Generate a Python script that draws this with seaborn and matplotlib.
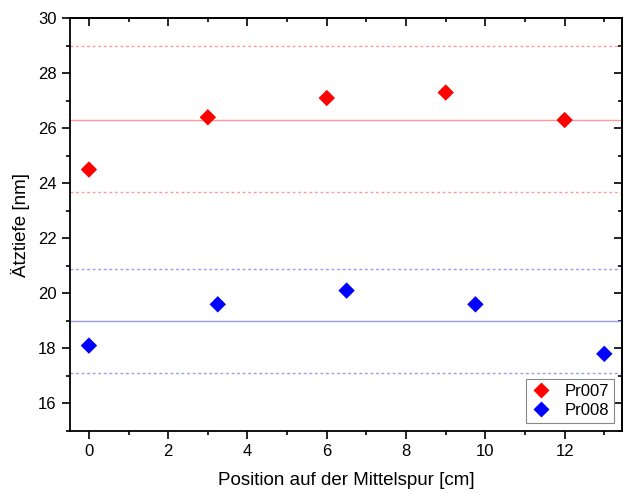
import numpy as np
import pandas as pd
import seaborn as sns
import matplotlib
matplotlib.use("Agg")
import matplotlib.pyplot as plt
from matplotlib.ticker import MultipleLocator

sns.set_style("ticks")
plt.rcParams['font.family'] = ['Liberation Sans', 'DejaVu Sans']
plt.rcParams['text.color'] = 'black'
plt.rcParams['axes.labelcolor'] = 'black'
plt.rcParams['xtick.color'] = 'black'
plt.rcParams['ytick.color'] = 'black'

x_pr007 = [0, 3, 6, 9, 12]
y_pr007 = [24.5, 26.4, 27.1, 27.3, 26.3]
x_pr008 = [0, 3.25, 6.5, 9.75, 13]
y_pr008 = [18.1, 19.6, 20.1, 19.6, 17.8]
mean_pr007, band_pr007 = 26.3, [29.0, 23.7]
mean_pr008, band_pr008 = 19.0, [20.9, 17.1]

df = pd.DataFrame({
    "x": x_pr007 + x_pr008,
    "y": y_pr007 + y_pr008,
    "series": ["Pr007"] * len(x_pr007) + ["Pr008"] * len(x_pr008),
})

fig = plt.figure(figsize=(6.24, 4.93), dpi=100)
ax = fig.add_axes([0.112, 0.126, 0.885, 0.837])

ax.axhline(mean_pr007, color="#ff9999", lw=1.0, zorder=1)
for v in band_pr007:
    ax.axhline(v, color="#ff9999", lw=1.0, ls=(0, (2, 2)), zorder=1)
ax.axhline(mean_pr008, color="#9999ee", lw=1.0, zorder=1)
for v in band_pr008:
    ax.axhline(v, color="#9999ee", lw=1.0, ls=(0, (2, 2)), zorder=1)

sns.scatterplot(data=df, x="x", y="y", hue="series",
                palette={"Pr007": "#ff0000", "Pr008": "#0000ff"},
                marker="D", s=70, edgecolor="none", ax=ax, zorder=3)

ax.set_xlim(-0.48, 13.45)
ax.set_ylim(15, 30)
for axis in (ax.xaxis, ax.yaxis):
    axis.set_major_locator(MultipleLocator(2))
    axis.set_minor_locator(MultipleLocator(1))
ax.tick_params(which="both", direction="out", labelsize=12, width=1.2)
ax.tick_params(which="major", length=6)
ax.tick_params(which="minor", length=3)

sx = ax.secondary_xaxis("top")
sy = ax.secondary_yaxis("right")
for sa, axis in ((sx, sx.xaxis), (sy, sy.yaxis)):
    axis.set_major_locator(MultipleLocator(2))
    axis.set_minor_locator(MultipleLocator(1))
    sa.tick_params(which="both", direction="in", labelsize=0, width=1.2,
                   labeltop=False, labelright=False)
    sa.tick_params(which="major", length=6)
    sa.tick_params(which="minor", length=3)
    for s in sa.spines.values():
        s.set_linewidth(1.3)
for s in ax.spines.values():
    s.set_linewidth(1.3)
    s.set_color("black")

ax.set_xlabel("Position auf der Mittelspur [cm]", fontsize=13.5, labelpad=9)
ax.set_ylabel("Ätztiefe [nm]", fontsize=13.5, labelpad=6)

leg = ax.legend(loc="lower right", fontsize=12, frameon=True, fancybox=False,
                edgecolor="#888888", handletextpad=0.8, borderpad=0.3,
                labelspacing=0.2, handlelength=1.2, markerscale=1.0,
                framealpha=1.0)
leg.get_frame().set_linewidth(0.8)

fig.savefig("out.png", dpi=100)
